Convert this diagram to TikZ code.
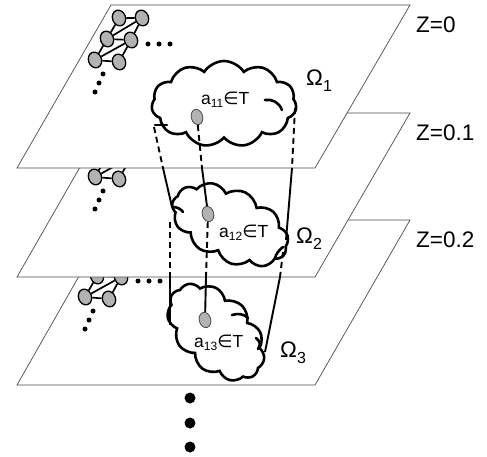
\documentclass[tikz,border=0pt]{standalone}
\usepackage{fontspec}
\setmainfont{Liberation Sans}
\newfontfamily\dejavu{DejaVu Sans}
\usetikzlibrary{shapes.geometric,shapes.symbols}
\tikzset{
  plane/.style={fill=white, draw=gray!60!black, line width=0.7pt},
  gnode/.style={ellipse, draw=black, fill=gray!60, line width=1.3pt, minimum width=13pt, minimum height=16pt, inner sep=0pt, rotate=20},
  anode/.style={ellipse, draw=black!70, fill=gray!60, line width=0.8pt, minimum width=11.5pt, minimum height=15.5pt, inner sep=0pt, rotate=15},
  gedge/.style={line width=1.7pt},
  sdot/.style={circle, fill=black, inner sep=0pt, minimum size=5pt},
  bdot/.style={circle, fill=black, inner sep=0pt, minimum size=11pt},
  cloudbox/.style={cloud, draw=black, fill=white, line width=2.6pt, cloud puffs=11, cloud puff arc=115, inner sep=0pt},
  hook/.style={line width=2.6pt, line cap=round},
  conn/.style={line width=1.9pt},
  hid/.style={conn, dash pattern=on 6pt off 4pt},
  zlab/.style={font=\fontsize{22.5}{22.5}\selectfont, inner sep=0pt, anchor=west},
  atext/.style={font=\fontsize{17.5}{17.5}\selectfont, inner sep=0pt, anchor=west}
}
\newcommand{\meshgraph}[2]{%
  \begin{scope}[shift={#2}]
    \node[gnode] (#1a) at (119,18) {};
    \node[gnode] (#1b) at (142,18) {};
    \node[gnode] (#1c) at (107,39) {};
    \node[gnode] (#1d) at (131,40) {};
    \node[gnode] (#1e) at (95,60) {};
    \node[gnode] (#1f) at (119,62) {};
    \draw[gedge] (#1a) -- (#1b) (#1c) -- (#1d) (#1e) -- (#1f)
      (#1a) -- (#1c) (#1c) -- (#1e) (#1b) -- (#1d) (#1d) -- (#1f)
      (#1b) -- (#1c) (#1d) -- (#1e);
    \node[sdot] (#1h1) at (148,44) {};
    \node[sdot] (#1h2) at (159,44) {};
    \node[sdot] (#1h3) at (170,44) {};
    \node[sdot] (#1v1) at (103,74) {};
    \node[sdot] (#1v2) at (99,83) {};
    \node[sdot] (#1v3) at (95,92) {};
  \end{scope}}
\newcommand{\subtx}[1]{{\fontsize{12}{12}\selectfont\raisebox{-3.5pt}{#1}}}
\newcommand{\subom}[1]{{\fontsize{16}{16}\selectfont\raisebox{-6pt}{#1}}}
\begin{document}
\begin{tikzpicture}[x=1pt, y=-1pt]
\useasboundingbox (0,0) rectangle (487,457);

% ---------- plane 3 (Z=0.2) ----------
\draw[plane] (111,220) -- (410,220) -- (315,385) -- (17,385) -- cycle;
\meshgraph{p3}{(-10,237)}
\node[cloudbox, minimum width=116pt, minimum height=74pt, rotate=-45] (c3) at (216,332) {};
\draw[hook] (232,315) .. controls (238,313) and (244,314) .. (248,318);
\draw[hook] (256,338) .. controls (260,341) and (261,345) .. (258,349);
\node[anode] (a13) at (205,320) {};
\node[atext] (t13) at (194,343) {a\subtx{13}{\dejavu ∈}T};
\node[zlab] (om3) at (280,353) {Ω\subom{3}};

% ---------- plane 2 (Z=0.1) ----------
\draw[plane] (111,113) -- (410,113) -- (315,277) -- (17,277) -- cycle;
\meshgraph{p2}{(0,117)}
\node[cloudbox, minimum width=124pt, minimum height=72pt, rotate=-25] (c2) at (230,225) {};
\draw[hook] (173,207) .. controls (177,207) and (181,209) .. (183,212);
\draw[hook] (283,247) .. controls (279,250) and (276,254) .. (275,258);
\node[anode] (a12) at (208,214) {};
\node[atext] (t12) at (219,233) {a\subtx{12}{\dejavu ∈}T};
\node[zlab] (om2) at (296,239) {Ω\subom{2}};

% ---------- plane 1 (Z=0) ----------
\draw[plane] (111,5) -- (410,5) -- (315,168) -- (17,168) -- cycle;
\meshgraph{p1}{(0,0)}
\node[cloudbox, minimum width=145pt, minimum height=86pt] (c1) at (224,104) {};
\draw[hook] (155,125) -- (167,125);
\draw[hook] (265,100) .. controls (272,99) and (279,102) .. (282,110);
\node[anode] (a11) at (197,117) {};
\node[atext] (t11) at (201,100) {a\subtx{11}{\dejavu ∈}T};
\node[zlab] (om1) at (306,81) {Ω\subom{1}};

% ---------- labels ----------
\node[zlab] (z0) at (416,25) {Z=0};
\node[zlab] (z1) at (416,133) {Z=0.1};
\node[zlab] (z2) at (416,240) {Z=0.2};

% ---------- connectors ----------
\coordinate (L0) at (154,127);
\coordinate (L1) at (163,168);
\coordinate (L2) at (172,207);
\coordinate (L3) at (170,222);
\coordinate (L4) at (170,277);
\coordinate (L5) at (170,325);
\coordinate (M1) at (202,168);
\coordinate (M2) at (206,277);
\coordinate (R0) at (295,108);
\coordinate (R1) at (292,168);
\coordinate (R2) at (286,240);
\coordinate (R3) at (283,252);
\coordinate (R4) at (280,277);
\coordinate (R5) at (265,352);
\draw[hid] (L0) -- (L1);
\draw[conn] (L1) -- (L2);
\draw[hid] (L3) -- (L4);
\draw[conn] (L4) -- (L5);
\draw[hid] (a11) -- (M1);
\draw[conn] (M1) -- (a12);
\draw[hid] (a12) -- (M2);
\draw[conn] (M2) -- (a13);
\draw[hid] (R0) -- (R1);
\draw[conn] (R1) -- (R2);
\draw[hid] (R3) -- (R4);
\draw[conn] (R4) -- (R5);

% ---------- vertical ellipsis ----------
\node[bdot] (d1) at (190,398) {};
\node[bdot] (d2) at (190,423) {};
\node[bdot] (d3) at (190,447) {};
\end{tikzpicture}
\end{document}
